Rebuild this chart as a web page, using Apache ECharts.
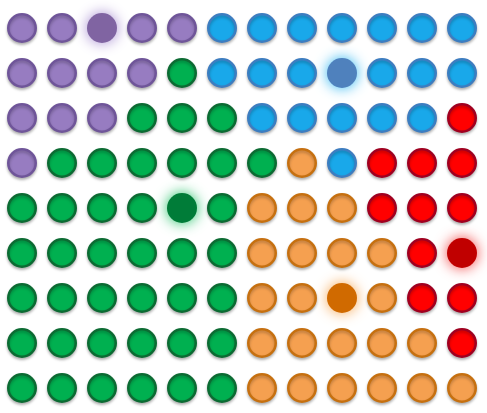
<!DOCTYPE html>
<html>
<head>
<meta charset="utf-8">
<script src="https://cdn.jsdelivr.net/npm/echarts@6/dist/echarts.min.js"></script>
<style>html,body{margin:0;padding:0;background:#fff}#c{width:487px;height:413px}</style>
</head>
<body>
<div id="c"></div>
<script>
// Columns and rows of the dot grid
const columns = ['1','2','3','4','5','6','7','8','9','10','11','12'];
const rows = ['1','2','3','4','5','6','7','8','9'];
// Category of each dot, row by row (P purple, B blue, G green, O orange, R red)
const gridRows = [
  'PPPPPBBBBBBB',
  'PPPPGBBBBBBB',
  'PPPGGGBBBBBR',
  'PGGGGGGOBRRR',
  'GGGGGGOOORRR',
  'GGGGGGOOOORR',
  'GGGGGGOOOORR',
  'GGGGGGOOOOOR',
  'GGGGGGOOOOOO'
];
// Highlighted dots [column index, row index]
const highlights = [[2,0],[8,1],[4,4],[11,5],[8,6]];
const groups = ['P','B','G','O','R'];
const groupNames = ['Purple','Blue','Green','Orange','Red'];

const styles = {
  P:{fill:'#977cc1', border:'#6f5599', hi:'#8064a2', glow:'#a58bd0'},
  B:{fill:'#19a8ea', border:'#3d7dc0', hi:'#4f81bd', glow:'#2ab4f0'},
  G:{fill:'#00b050', border:'#0c6b33', hi:'#007c38', glow:'#1cbf62'},
  O:{fill:'#f5a050', border:'#c67010', hi:'#d06a00', glow:'#f5a550'},
  R:{fill:'#ff0000', border:'#a00020', hi:'#c00000', glow:'#f04040'}
};

const isHi = (c,r) => highlights.some(h => h[0]===c && h[1]===r);

const series = groups.map((g,gi) => {
  const s = styles[g];
  const data = [];
  gridRows.forEach((row,r) => {
    row.split('').forEach((ch,c) => {
      if (ch !== g) return;
      if (isHi(c,r)) {
        data.push({value:[c,r], symbolSize:30, itemStyle:{color:s.hi, opacity:1, borderWidth:0, shadowBlur:14, shadowColor:s.glow, shadowOffsetX:0, shadowOffsetY:0}});
      } else {
        data.push([c,r]);
      }
    });
  });
  return {
    name: groupNames[gi],
    type:'scatter',
    symbol:'circle',
    symbolSize:27.5,
    data,
    itemStyle:{color:s.fill, opacity:1, borderColor:s.border, borderWidth:2.5, shadowBlur:3, shadowColor:'rgba(0,0,0,0.25)', shadowOffsetY:2},
    emphasis:{disabled:true},
    silent:true
  };
});

const chart = echarts.init(document.getElementById('c'));
chart.setOption({
  animation:false,
  backgroundColor:'#ffffff',
  grid:{left:2, top:5.5, width:480, height:405},
  xAxis:{type:'category', data:columns, show:false, boundaryGap:true},
  yAxis:{type:'category', data:rows, show:false, inverse:true, boundaryGap:true},
  series
});
</script>
</body>
</html>
